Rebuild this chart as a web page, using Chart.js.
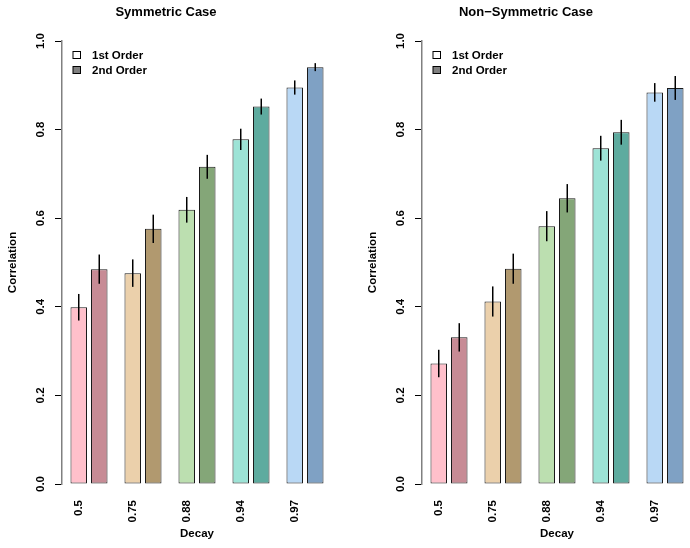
<!DOCTYPE html>
<html>
<head>
<meta charset="utf-8">
<script src="https://cdn.jsdelivr.net/npm/chart.js@4.4.1/dist/chart.umd.min.js"></script>
<style>
  html, body { margin: 0; padding: 0; background: #fff; overflow: hidden; }
  #wrap { position: relative; width: 690px; height: 548px; overflow: hidden; }
  canvas { position: absolute; top: 0; }
  #symChart { left: 0; }
  #nonSymChart { left: 360px; }
</style>
</head>
<body>
<div id="wrap">
  <canvas id="symChart" width="345" height="548"></canvas>
  <canvas id="nonSymChart" width="345" height="548"></canvas>
</div>
<script>
// decay values on the x axis
const decayLabels = ['0.5', '0.75', '0.88', '0.94', '0.97'];
const yTicks = [0, 0.2, 0.4, 0.6, 0.8, 1.0];
const seriesNames = ['1st Order', '2nd Order'];

// symmetric case
const symFirst = [0.399, 0.476, 0.619, 0.778, 0.895];
const symFirstErr = [0.030, 0.031, 0.029, 0.024, 0.016];
const symSecond = [0.485, 0.576, 0.716, 0.852, 0.941];
const symSecondErr = [0.033, 0.032, 0.027, 0.018, 0.009];

// non-symmetric case
const nonFirst = [0.272, 0.412, 0.582, 0.758, 0.884];
const nonFirstErr = [0.031, 0.034, 0.034, 0.028, 0.021];
const nonSecond = [0.331, 0.486, 0.645, 0.794, 0.894];
const nonSecondErr = [0.032, 0.034, 0.032, 0.028, 0.027];

const firstColors = ['#FFC0CB', '#EBD0AB', '#BCDFB0', '#9DE3D6', '#B9D8F5'];
const secondColors = ['#C78B95', '#B1996F', '#84A678', '#5EAB9F', '#7FA1C4'];
const legendColors = ['#FFFFFF', '#808080'];

const FONT = '"Liberation Sans", Arial, Helvetica, sans-serif';
Chart.defaults.font.family = FONT;
Chart.defaults.color = '#000';

// vertical error lines through the bar centres
const errorBars = {
    id: 'errorBars',
    afterDatasetsDraw(chart) {
        const ctx = chart.ctx;
        const yScale = chart.scales.y;
        ctx.save();
        ctx.strokeStyle = '#000';
        ctx.lineWidth = 1.5;
        chart.data.datasets.forEach((ds, i) => {
            chart.getDatasetMeta(i).data.forEach((bar, j) => {
                const v = ds.data[j];
                const e = ds.errors[j];
                ctx.beginPath();
                ctx.moveTo(bar.x, yScale.getPixelForValue(v + e));
                ctx.lineTo(bar.x, yScale.getPixelForValue(v - e));
                ctx.stroke();
            });
        });
        ctx.restore();
    }
};

// small legend in the top-left corner of the plot
const boxLegend = {
    id: 'boxLegend',
    afterDraw(chart) {
        const ctx = chart.ctx;
        const left = chart.chartArea.left;
        const top = chart.chartArea.top;
        ctx.save();
        ctx.font = 'bold 11.5px ' + FONT;
        ctx.textBaseline = 'middle';
        chart.data.datasets.forEach((ds, i) => {
            const cy = Math.round(top + 14 + i * 14.5);
            ctx.fillStyle = ds.legendColor;
            ctx.fillRect(left + 11, cy - 3.5, 7.5, 7);
            ctx.strokeStyle = '#000';
            ctx.lineWidth = 1;
            ctx.strokeRect(left + 11, cy - 3.5, 7.5, 7);
            ctx.fillStyle = '#000';
            ctx.fillText(ds.label, left + 30, cy + 0.5);
        });
        ctx.restore();
    }
};

function makeChart(id, title, first, firstErr, second, secondErr) {
    const boldFont = { size: 11.5, weight: 'bold' };
    return new Chart(document.getElementById(id), {
        type: 'bar',
        data: {
            labels: decayLabels,
            datasets: [{
                label: seriesNames[0],
                data: first,
                errors: firstErr,
                legendColor: legendColors[0],
                backgroundColor: firstColors,
                borderColor: '#1a1a1a',
                borderWidth: 1,
                borderSkipped: false
            }, {
                label: seriesNames[1],
                data: second,
                errors: secondErr,
                legendColor: legendColors[1],
                backgroundColor: secondColors,
                borderColor: '#1a1a1a',
                borderWidth: 1,
                borderSkipped: false
            }]
        },
        options: {
            responsive: false,
            animation: false,
            categoryPercentage: 0.76,
            barPercentage: 0.805,
            layout: { padding: { top: 0, right: 13, bottom: 0, left: 0 } },
            plugins: {
                legend: { display: false },
                tooltip: { enabled: false },
                title: {
                    display: true,
                    text: title,
                    color: '#000',
                    font: { size: 13, weight: 'bold' },
                    padding: { top: 5, bottom: 20.4 }
                }
            },
            scales: {
                x: {
                    grid: { display: false, drawTicks: false },
                    border: { display: false },
                    ticks: {
                        font: boldFont,
                        color: '#000',
                        minRotation: 90,
                        maxRotation: 90,
                        autoSkip: false,
                        padding: 16,
                        labelOffset: -10
                    },
                    title: {
                        display: true,
                        text: 'Decay',
                        color: '#000',
                        font: boldFont,
                        padding: { top: 0, bottom: 7 }
                    },
                    afterFit(scale) { scale.height = 64; }
                },
                y: {
                    min: 0,
                    max: 1,
                    grid: {
                        drawOnChartArea: false,
                        drawTicks: true,
                        tickLength: 7,
                        color: '#000',
                        lineWidth: 1
                    },
                    border: { display: true, color: '#808080', width: 1.5 },
                    afterBuildTicks(scale) {
                        scale.ticks = yTicks.map(v => ({ value: v }));
                    },
                    ticks: {
                        font: boldFont,
                        color: '#000',
                        minRotation: 90,
                        maxRotation: 90,
                        crossAlign: 'center',
                        padding: 6,
                        callback: v => Number(v).toFixed(1)
                    },
                    title: {
                        display: true,
                        text: 'Correlation',
                        color: '#000',
                        font: boldFont,
                        padding: { top: 6, bottom: 0 }
                    },
                    afterFit(scale) { scale.width = 62; }
                }
            }
        },
        plugins: [errorBars, boxLegend]
    });
}

makeChart('symChart', 'Symmetric Case', symFirst, symFirstErr, symSecond, symSecondErr);
makeChart('nonSymChart', 'Non\u2212Symmetric Case', nonFirst, nonFirstErr, nonSecond, nonSecondErr);
</script>
</body>
</html>
